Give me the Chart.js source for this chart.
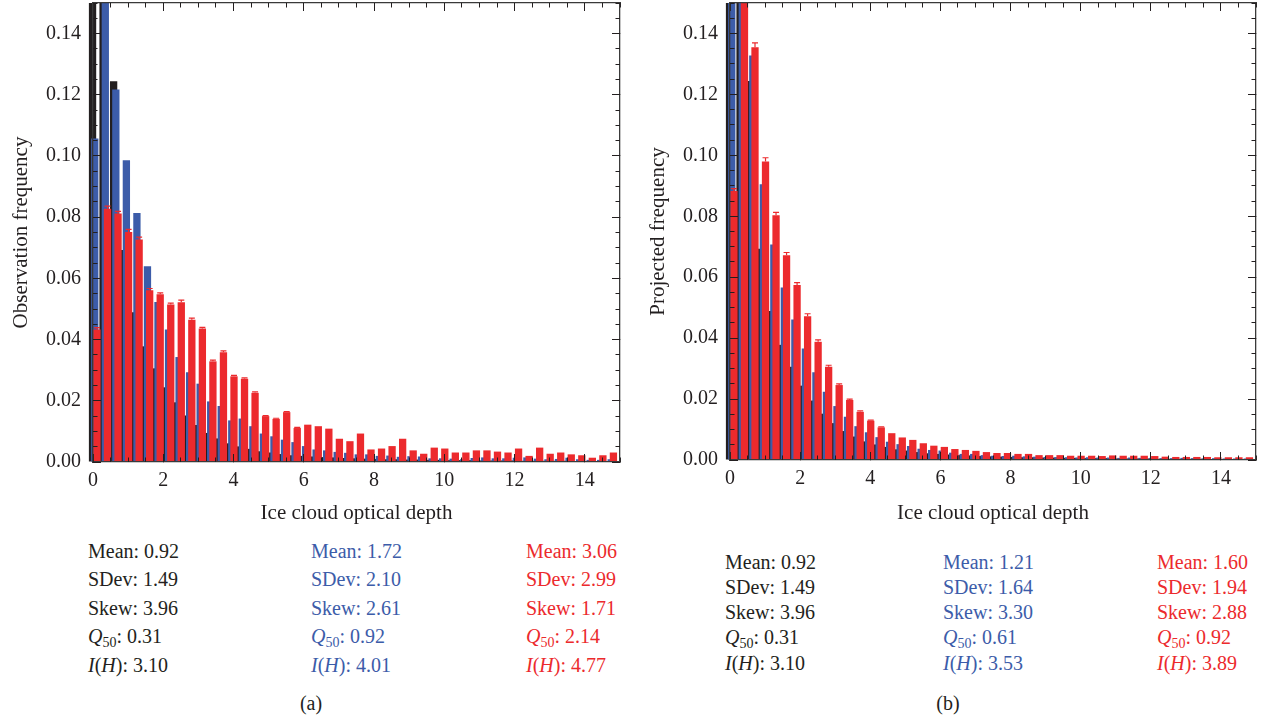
<!DOCTYPE html>
<html>
<head>
<meta charset="utf-8">
<script src="https://cdn.jsdelivr.net/npm/chart.js@4.4.0/dist/chart.umd.min.js"></script>
<style>
  html, body { margin: 0; padding: 0; background: #fff; }
  body { width: 1263px; height: 718px; position: relative; overflow: hidden;
         font-family: 'Liberation Serif', 'DejaVu Serif', serif; }
  .pane { position: absolute; top: 0; }
  .stat { position: absolute; font-size: 20px; line-height: 24px; white-space: nowrap; }
  .cap { position: absolute; font-size: 20px; line-height: 24px; transform: translateX(-50%); color: #231f20; }
  sub { font-size: 14px; vertical-align: -4px; line-height: 0; }
</style>
</head>
<body>
<div class="pane" style="left:0"><canvas id="chA" width="631" height="530"></canvas></div>
<div class="pane" style="left:637px"><canvas id="chB" width="626" height="530"></canvas></div>
<script>
// bin starts (optical depth), 0.3 wide
const binStart = [0, 0.3, 0.6, 0.9, 1.2, 1.5, 1.8, 2.1, 2.4, 2.7,
  3, 3.3, 3.6, 3.9, 4.2, 4.5, 4.8, 5.1, 5.4, 5.7,
  6, 6.3, 6.6, 6.9, 7.2, 7.5, 7.8, 8.1, 8.4, 8.7,
  9, 9.3, 9.6, 9.9, 10.2, 10.5, 10.8, 11.1, 11.4, 11.7,
  12, 12.3, 12.6, 12.9, 13.2, 13.5, 13.8, 14.1, 14.4, 14.7];

// black series, same in both panels
const obsBlack = [0.30, 0.25, 0.1244, 0.0693, 0.0489, 0.0378, 0.0306, 0.0244, 0.0195, 0.0152,
  0.0121, 0.0095, 0.0077, 0.0061, 0.0051, 0.0043, 0.0035, 0.0031, 0.0026, 0.0022,
  0.0020, 0.0018, 0.0016, 0.0015, 0.0013, 0.0012, 0.0011, 0.0010, 0.0009, 0.0009,
  0.0008, 0.0008, 0.0007, 0.0007, 0.0006, 0.0006, 0.0006, 0.0005, 0.0005, 0.0005,
  0.0005, 0.0004, 0.0004, 0.0004, 0.0004, 0.0004, 0.0003, 0.0003, 0.0003, 0.0003];

// panel (a) observation frequency
const obsBlue = [0.1057, 0.16, 0.1217, 0.0986, 0.0814, 0.0640, 0.0523, 0.0433, 0.0343, 0.0293,
  0.0256, 0.0198, 0.0183, 0.0136, 0.0142, 0.0117, 0.0093, 0.0084, 0.0073, 0.0065,
  0.0052, 0.0041, 0.0038, 0.0033, 0.0030, 0.0025, 0.0025, 0.0020, 0.0021, 0.0017,
  0.0019, 0.0018, 0.0012, 0.0012, 0.0011, 0.0009, 0.0013, 0.0015, 0.0012, 0.0012,
  0.0014, 0.0015, 0.0011, 0.0009, 0.0010, 0.0014, 0.0009, 0.0007, 0.0007, 0.0009];
const obsRed = [0.0433, 0.0828, 0.0812, 0.0752, 0.0727, 0.0561, 0.0548, 0.0515, 0.0522, 0.0465,
  0.0436, 0.0329, 0.0359, 0.0280, 0.0272, 0.0226, 0.0150, 0.0141, 0.0163, 0.0111,
  0.0122, 0.0117, 0.0109, 0.0076, 0.0068, 0.0093, 0.0041, 0.0044, 0.0052, 0.0076,
  0.0038, 0.0027, 0.0047, 0.0044, 0.0031, 0.0031, 0.0038, 0.0038, 0.0034, 0.0031,
  0.0044, 0.0020, 0.0047, 0.0027, 0.0031, 0.0025, 0.0022, 0.0014, 0.0022, 0.0031];
const obsRedErr = [0.0006, 0.0008, 0.0007, 0.0008, 0.0008, 0.0006, 0.0005, 0.0004, 0.0007, 0.0005,
  0.0004, 0.0004, 0.0004, 0.0003, 0.0003, 0.0003, 0.0002, 0.0002, 0.0002, 0.0002,
  0, 0, 0, 0, 0, 0, 0, 0, 0, 0, 0, 0, 0, 0, 0, 0, 0, 0, 0, 0,
  0, 0, 0, 0, 0, 0, 0, 0, 0, 0];

// panel (b) projected frequency
const projBlue = [0.19, 0.155, 0.1328, 0.0905, 0.0707, 0.0566, 0.0461, 0.0366, 0.0288, 0.0224,
  0.0177, 0.0142, 0.0111, 0.0091, 0.0075, 0.0060, 0.0052, 0.0046, 0.0037, 0.0033,
  0.0031, 0.0024, 0.0020, 0.0020, 0.0016, 0.0014, 0.0013, 0.0014, 0.0012, 0.0011,
  0.0010, 0.0009, 0.0009, 0.0008, 0.0009, 0.0008, 0.0008, 0.0007, 0.0008, 0.0007,
  0.0007, 0.0006, 0.0006, 0.0007, 0.0006, 0.0005, 0.0006, 0.0005, 0.0005, 0.0005];
const projRed = [0.0883, 0.158, 0.1355, 0.0980, 0.0803, 0.0672, 0.0574, 0.0472, 0.0388, 0.0306,
  0.0246, 0.0197, 0.0158, 0.0129, 0.0107, 0.0088, 0.0074, 0.0066, 0.0055, 0.0047,
  0.0043, 0.0036, 0.0033, 0.0030, 0.0026, 0.0023, 0.0023, 0.0020, 0.0020, 0.0016,
  0.0016, 0.0016, 0.0014, 0.0014, 0.0014, 0.0013, 0.0015, 0.0014, 0.0014, 0.0014,
  0.0013, 0.0011, 0.0010, 0.0010, 0.0010, 0.0010, 0.0009, 0.0009, 0.0009, 0.0009];
const projRedErr = [0.0008, 0.0012, 0.0014, 0.0012, 0.0010, 0.0009, 0.0008, 0.0008, 0.0006, 0.0005,
  0.0004, 0.0003, 0.0003, 0.0002, 0.0002, 0, 0, 0, 0, 0,
  0, 0, 0, 0, 0, 0, 0, 0, 0, 0, 0, 0, 0, 0, 0, 0, 0, 0, 0, 0,
  0, 0, 0, 0, 0, 0, 0, 0, 0, 0];

// summary statistics under each panel
const statNames = ['Mean', 'SDev', 'Skew', 'Q50', 'I(H)'];
const statsBlack = ['0.92', '1.49', '3.96', '0.31', '3.10'];
const statsBlueA = ['1.72', '2.10', '2.61', '0.92', '4.01'];
const statsRedA  = ['3.06', '2.99', '1.71', '2.14', '4.77'];
const statsBlueB = ['1.21', '1.64', '3.30', '0.61', '3.53'];
const statsRedB  = ['1.60', '1.94', '2.88', '0.92', '3.89'];

const INK = '#231f20', BLUE = '#3c5ca9', RED = '#ec2a2d', FRAME = '#3a3a3a';
Chart.defaults.font.family = "'Liberation Serif', 'DejaVu Serif', serif";
Chart.defaults.color = INK;

// draw black, then blue, then red on top (grouped order stays black|blue|red)
const layered = {
  id: 'layered',
  beforeDatasetsDraw(chart){
    const { ctx, chartArea: a } = chart;
    ctx.save();
    ctx.beginPath();
    ctx.rect(a.left - 8, a.top, a.right - a.left + 8, a.bottom - a.top);
    ctx.clip();
    chart.data.datasets.forEach((ds, i) => {
      if(chart.isDatasetVisible(i)) chart.getDatasetMeta(i).controller.draw();
    });
    // error bars
    const y = chart.scales.y;
    chart.data.datasets.forEach((ds, i) => {
      if(!ds.errors) return;
      chart.getDatasetMeta(i).data.forEach((bar, k) => {
        const e = ds.errors[k];
        if(!e) return;
        const top = y.getPixelForValue(ds.data[k] + e);
        ctx.strokeStyle = ds.backgroundColor;
        ctx.lineWidth = 1.2;
        ctx.beginPath();
        ctx.moveTo(bar.x, bar.y); ctx.lineTo(bar.x, top);
        ctx.moveTo(bar.x - 3, top); ctx.lineTo(bar.x + 3, top);
        ctx.stroke();
      });
    });
    ctx.restore();
    return false;
  }
};

// keeps the plot area where we put it: no extra room for edge labels
function pin(s, size){
  if(s.isHorizontal()){ s.height = size; s.paddingLeft = 0; s.paddingRight = 0; }
  else { s.width = size; s.paddingTop = 0; s.paddingBottom = 0; }
}

function tickAxis(position, min, max, step, len, weight, border){
  return {
    type: 'linear', position, min, max, weight, offset: false,
    grid: { drawOnChartArea: false, offset: false, tickLength: len, tickColor: INK, tickWidth: 1, z: 1 },
    border: { display: border, color: FRAME, width: 1.3, z: 1 },
    ticks: { display: false, stepSize: step, includeBounds: false },
    afterFit: s => pin(s, 0)
  };
}

function bars(label, data, color, errors){
  return { label, data, backgroundColor: color, borderWidth: 0, errors,
           xAxisID: 'xBins', yAxisID: 'y', barPercentage: 3.3, categoryPercentage: 0.63 };
}

function panel(id, o){
  return new Chart(document.getElementById(id), {
    type: 'bar',
    data: {
      labels: binStart,
      datasets: [
        bars('black', obsBlack, INK),
        bars('blue', o.blue, BLUE),
        bars('red', o.red, RED, o.err)
      ]
    },
    options: {
      responsive: false, animation: false, devicePixelRatio: 1, events: [],
      layout: { padding: { top: 3, right: o.padRight, left: 0, bottom: 0 } },
      plugins: { legend: { display: false }, tooltip: { enabled: false } },
      scales: {
        xBins: { type: 'linear', display: false, min: -0.05, max: 14.95, offset: false,
                 grid: { offset: false }, ticks: { stepSize: 3, includeBounds: false } },
        x: {
          type: 'linear', position: 'bottom', min: 0, max: 15, weight: 1, offset: false,
          grid: { drawOnChartArea: false, offset: false, tickLength: -8, tickColor: INK, z: 1 },
          border: { color: FRAME, width: 1.3, z: 1 },
          ticks: { stepSize: 2, includeBounds: false, padding: 15, maxRotation: 0, autoSkip: false,
                   color: INK, font: { size: 20 } },
          title: { display: true, text: 'Ice cloud optical depth', color: INK,
                   font: { size: 21 }, padding: { top: 0, bottom: 4 } },
          afterFit: s => pin(s, o.xHeight)
        },
        xMinor: tickAxis('bottom', 0, 15, 0.5, -4.5, 0, false),
        xTop: tickAxis('top', 0, 15, 2, -8, 1, true),
        xTopMinor: tickAxis('top', 0, 15, 0.5, -4.5, 0, false),
        y: {
          type: 'linear', position: 'left', min: 0, max: 0.15, weight: 1,
          grid: { drawOnChartArea: false, tickLength: -8, tickColor: INK, z: 1 },
          border: { color: FRAME, width: 1.3, z: 1 },
          ticks: { stepSize: 0.02, includeBounds: false, padding: 20, color: INK,
                   font: { size: 20 }, callback: v => v.toFixed(2) },
          title: { display: true, text: o.yTitle, color: INK, font: { size: 21 },
                   padding: { top: 9, bottom: 0 } },
          afterFit: s => pin(s, 93)
        },
        yMinor: tickAxis('left', 0, 0.15, 0.005, -4.5, 0, false),
        yRight: tickAxis('right', 0, 0.15, 0.02, -8, 1, true),
        yRightMinor: tickAxis('right', 0, 0.15, 0.005, -4.5, 0, false)
      }
    },
    plugins: [layered]
  });
}

function statLabel(name){
  if(name === 'Q50') return '<i>Q</i><sub>50</sub>: ';
  if(name === 'I(H)') return '<i>I</i>(<i>H</i>): ';
  return name + ': ';
}

function notes(cols, rows, sets, colors, caption, capX){
  sets.forEach((vals, c) => vals.forEach((v, r) => {
    const el = document.createElement('div');
    el.className = 'stat';
    el.style.left = cols[c] + 'px';
    el.style.top = (rows[r] - 12) + 'px';
    el.style.color = colors[c];
    el.innerHTML = statLabel(statNames[r]) + v;
    document.body.appendChild(el);
  }));
  const cap = document.createElement('div');
  cap.className = 'cap';
  cap.style.left = capX + 'px';
  cap.style.top = '691px';
  cap.textContent = caption;
  document.body.appendChild(cap);
}

panel('chA', { blue: obsBlue, red: obsRed, err: obsRedErr, padRight: 11, xHeight: 68,
               yTitle: 'Observation frequency' });
panel('chB', { blue: projBlue, red: projRed, err: projRedErr, padRight: 7, xHeight: 70,
               yTitle: 'Projected frequency' });

notes([88, 311, 526], [551, 579, 608, 636, 665],
      [statsBlack, statsBlueA, statsRedA], [INK, BLUE, RED], '(a)', 311);
notes([725, 943, 1157], [562, 587, 612, 637, 663],
      [statsBlack, statsBlueB, statsRedB], [INK, BLUE, RED], '(b)', 948);
</script>
</body>
</html>
